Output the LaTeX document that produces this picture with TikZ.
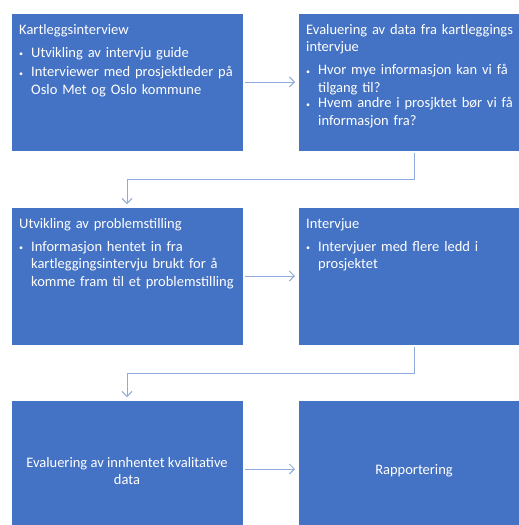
\documentclass[tikz,border=0pt]{standalone}
\usepackage{fontspec}
\setmainfont{Carlito}
\usetikzlibrary{arrows.meta}
\definecolor{boxblue}{HTML}{4472C4}
\definecolor{linkblue}{HTML}{8FAADC}
\newcommand{\bitm}[1]{\par\vspace{2pt}\noindent\makebox[12pt][l]{\raisebox{0.5pt}{\footnotesize\textbullet}}\parbox[t]{225pt}{\raggedright #1}}
\begin{document}
\begin{tikzpicture}[x=1pt,y=1pt,
  stepbox/.style={rectangle,fill=boxblue,draw=white,line width=1pt,minimum width=232pt,minimum height=138pt,inner sep=0pt,outer sep=0pt},
  boxtext/.style={anchor=base west,inner sep=0pt,text=white,text width=240pt,align=left,font=\fontsize{14.5}{17.5}\selectfont},
  centertext/.style={inner sep=0pt,text=white,align=center,font=\fontsize{14.5}{17.5}\selectfont},
  link/.style={draw=linkblue,line width=1pt,-{Straight Barb[length=5pt,width=10pt]},shorten >=3pt,shorten <=2pt}]
\useasboundingbox (0,0) rectangle (519,-525);
\clip (0,0) rectangle (519,-525);
\fill[white] (0,0) rectangle (519,-525);

\node[stepbox] (b1) at (127,-82) {};
\node[stepbox] (b2) at (414,-82) {};
\node[stepbox] (b3) at (127,-276) {};
\node[stepbox] (b4) at (414,-276) {};
\node[stepbox] (b5) at (127,-469) {};
\node[stepbox] (b6) at (414,-469) {};

\node[boxtext] (t1) at ([xshift=8pt,yshift=-21pt]b1.north west) {Kartleggsinterview\par\vspace{3.5pt}
\bitm{Utvikling av intervju guide}
\bitm{Interviewer med prosjektleder på\\Oslo Met og Oslo kommune}};

\node[boxtext] (t2) at ([xshift=8pt,yshift=-21pt]b2.north west) {Evaluering av data fra kartleggings\\intervjue\par\vspace{3.5pt}
\bitm{Hvor mye informasjon kan vi få\\tilgang til?}
\bitm{Hvem andre i prosjktet bør vi få\\informasjon fra?}};

\node[boxtext] (t3) at ([xshift=8pt,yshift=-21pt]b3.north west) {Utvikling av problemstilling\par\vspace{3.5pt}
\bitm{Informasjon hentet in fra\\kartleggingsintervju brukt for å\\komme fram til et problemstilling}};

\node[boxtext] (t4) at ([xshift=8pt,yshift=-21pt]b4.north west) {Intervjue\par\vspace{3.5pt}
\bitm{Intervjuer med flere ledd i\\prosjektet}};

\node[centertext] (t5) at ([yshift=-2pt]b5.center) {Evaluering av innhentet kvalitative\\data};
\node[centertext] (t6) at ([yshift=-2pt]b6.center) {Rapportering};

\draw[link] (b1.east) -- (b2.west);
\draw[link] (b2.south) -- ++(0,-28) -| (b3.north);
\draw[link] (b3.east) -- (b4.west);
\draw[link] (b4.south) -- ++(0,-28) -| (b5.north);
\draw[link] (b5.east) -- (b6.west);
\end{tikzpicture}
\end{document}
